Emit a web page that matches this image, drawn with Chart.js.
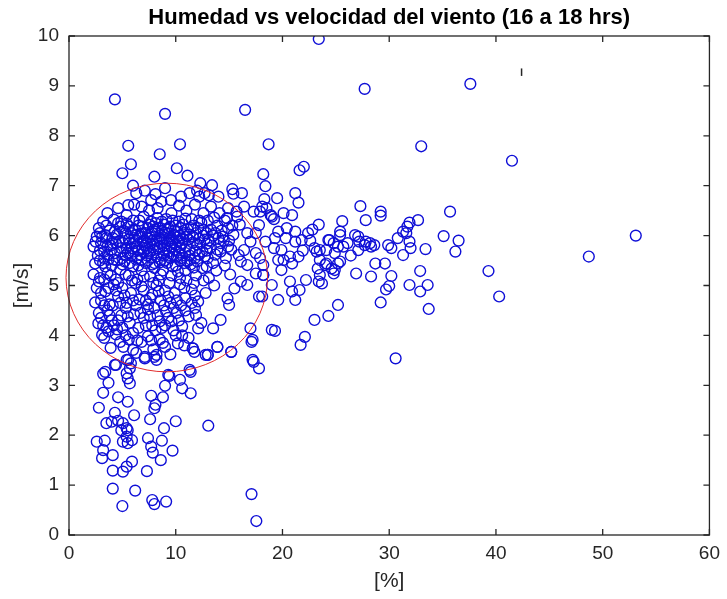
<!DOCTYPE html>
<html>
<head>
<meta charset="utf-8">
<script src="https://cdn.jsdelivr.net/npm/chart.js@4.4.1/dist/chart.umd.min.js"></script>
<style>
  body { margin: 0; background: #fff; }
  canvas { display: block; }
</style>
</head>
<body>
<canvas id="humedad" width="727" height="599"></canvas>
<script>
// ejes
const xTicks = [0, 10, 20, 30, 40, 50, 60];
const yTicks = [0, 1, 2, 3, 4, 5, 6, 7, 8, 9, 10];
const titulo = "Humedad vs velocidad del viento (16 a 18 hrs)";

// [humedad %, velocidad m/s]
const aislados = [
  [23.4, 9.94], [27.7, 8.94], [37.6, 9.04], [4.3, 8.73], [9.0, 8.44], [16.5, 8.52],
  [5.55, 7.8], [10.4, 7.83], [18.7, 7.83], [33.0, 7.79], [41.5, 7.5], [8.5, 7.63],
  [5.8, 7.43], [5.0, 7.25], [10.1, 7.35], [11.1, 7.2], [8.0, 7.18], [6.0, 7.0],
  [12.3, 7.05], [13.4, 7.01], [15.3, 6.93], [15.4, 6.84], [18.2, 7.23], [18.4, 6.99],
  [21.6, 7.31], [22.0, 7.38], [48.7, 5.58], [53.1, 6.0], [39.3, 5.29], [40.3, 4.78],
  [30.6, 3.54], [35.7, 6.48]
];

const bordeSuperior = [
  [8.1, 6.83], [11.3, 6.85], [12.7, 6.85], [14.0, 6.78], [18.3, 6.73], [19.5, 6.75],
  [21.2, 6.85], [21.5, 6.66], [17.9, 6.48], [19.2, 6.33], [20.1, 6.45], [20.9, 6.41],
  [5.55, 6.61], [6.8, 6.58], [4.9, 6.28], [5.4, 6.41], [7.7, 6.71], [8.65, 6.68],
  [8.3, 6.55], [9.55, 6.71], [12.2, 6.78], [13.1, 6.81], [16.4, 6.58], [17.3, 6.48],
  [18.5, 6.55], [14.8, 6.35], [15.75, 6.38], [17.8, 6.21], [16.7, 6.05], [17.5, 6.05],
  [17.0, 5.88], [16.4, 5.71], [15.9, 5.61], [17.5, 5.65], [17.9, 5.55], [18.2, 5.41],
  [16.1, 5.48], [16.7, 5.41], [17.5, 5.24], [18.2, 5.21], [18.9, 6.41], [3.6, 6.45],
  [4.6, 6.55], [6.1, 6.62], [7.1, 6.9], [9.0, 6.95], [12.0, 6.9], [16.2, 6.85],
  [10.5, 6.78], [6.3, 6.85], [10.3, 6.6], [11.0, 6.5], [11.8, 6.62], [12.6, 6.45],
  [13.3, 6.58], [14.1, 6.45], [14.9, 6.55], [15.7, 6.48], [9.6, 6.45], [7.5, 6.5]
];

const nucleo = [
  // 5.9 - 6.35
  [2.9, 6.05], [3.5, 6.2], [4.1, 5.95], [4.6, 6.25], [5.1, 6.1], [5.6, 5.92], [6.0, 6.3],
  [6.4, 6.02], [6.9, 6.18], [7.3, 5.95], [7.7, 6.28], [8.1, 6.08], [8.5, 5.93], [8.9, 6.22],
  [9.3, 6.04], [9.7, 6.3], [10.1, 5.97], [10.5, 6.15], [10.9, 6.34], [11.3, 6.02], [11.7, 6.2],
  [12.2, 5.94], [12.6, 6.12], [13.0, 6.3], [13.5, 6.0], [13.9, 6.2], [14.4, 5.98], [14.9, 6.15],
  [15.4, 6.02], [16.0, 6.22], [7.0, 6.38], [8.3, 6.35], [9.9, 6.1], [11.1, 6.12], [12.9, 6.05],
  [6.2, 6.12], [10.7, 5.92], [2.6, 5.98], [3.4, 6.01], [4.3, 6.08], [6.0, 6.11],
  // 5.5 - 5.9
  [2.3, 5.78], [2.7, 5.6], [3.0, 5.85], [3.3, 5.68], [3.7, 5.52], [3.9, 5.8], [4.3, 5.65],
  [4.7, 5.88], [5.0, 5.55], [5.4, 5.75], [5.8, 5.6], [6.1, 5.85], [6.5, 5.7], [6.8, 5.52],
  [7.1, 5.8], [7.5, 5.65], [7.8, 5.9], [8.2, 5.58], [8.5, 5.78], [8.8, 5.65], [9.2, 5.85],
  [9.5, 5.55], [9.9, 5.72], [10.2, 5.88], [10.6, 5.6], [11.0, 5.78], [11.4, 5.52], [11.8, 5.7],
  [12.3, 5.85], [12.7, 5.58], [13.2, 5.75], [13.7, 5.62], [14.2, 5.85], [14.7, 5.55], [15.2, 5.72],
  [5.2, 5.95], [6.3, 5.9], [7.2, 6.05], [7.9, 5.72], [8.6, 6.0], [9.0, 5.5], [9.6, 5.95],
  [10.4, 5.75], [11.2, 5.92], [11.9, 6.05], [6.7, 5.62], [8.0, 5.45], [9.4, 5.68], [10.8, 5.45],
  [7.4, 5.5], [5.9, 5.75], [4.5, 5.5], [3.5, 5.95], [12.0, 5.48], [13.5, 5.45],
  [6.6, 5.98], [7.6, 5.82], [8.4, 6.15], [9.1, 5.74], [9.8, 6.02], [10.3, 5.66], [11.6, 5.86],
  [8.8, 5.92], [7.0, 5.68], [6.2, 5.78], [10.0, 5.82], [12.5, 5.68], [5.6, 6.18], [4.0, 5.72],
  // 5.1 - 5.5
  [2.45, 5.44], [2.3, 5.22], [2.9, 5.15], [3.2, 5.45], [3.6, 5.25], [4.0, 5.4], [4.4, 5.12],
  [4.8, 5.32], [5.2, 5.48], [5.6, 5.2], [6.0, 5.38], [6.4, 5.12], [6.8, 5.3], [7.2, 5.45],
  [7.6, 5.18], [8.0, 5.35], [8.4, 5.1], [8.8, 5.3], [9.2, 5.45], [9.6, 5.2], [10.0, 5.4],
  [10.4, 5.15], [10.9, 5.3], [11.4, 5.42], [11.9, 5.2], [12.5, 5.35], [13.1, 5.15], [13.8, 5.3],
  [14.6, 5.4], [15.1, 5.22],
  // 4.6 - 5.1
  [2.6, 4.95], [3.0, 4.7], [3.4, 4.88], [3.8, 4.62], [4.2, 5.02], [4.6, 4.78], [5.0, 4.95],
  [5.4, 4.65], [5.8, 4.85], [6.2, 5.05], [6.6, 4.72], [7.0, 4.9], [7.4, 4.62], [7.8, 4.82],
  [8.2, 5.0], [8.6, 4.7], [9.0, 4.9], [9.5, 4.65], [9.9, 4.85], [10.4, 5.02], [10.9, 4.75],
  [11.5, 4.92], [12.1, 4.68], [12.8, 4.85], [2.45, 4.66], [13.6, 5.0],
  // 4.1 - 4.6
  [2.75, 4.24], [2.8, 4.45], [3.2, 4.2], [3.6, 4.5], [4.0, 4.3], [4.5, 4.12], [4.9, 4.4],
  [5.3, 4.55], [5.7, 4.25], [6.1, 4.42], [6.5, 4.15], [7.0, 4.35], [7.4, 4.52], [7.8, 4.2],
  [8.3, 4.4], [8.7, 4.15], [9.1, 4.48], [9.6, 4.28], [10.1, 4.45], [10.6, 4.18], [11.2, 4.38],
  [11.8, 4.55], [12.4, 4.25], [12.1, 4.14], [11.9, 4.41], [13.5, 4.14], [14.2, 4.31],
  // 3.6 - 4.1
  [3.1, 4.01], [3.3, 3.95], [3.9, 3.75], [4.4, 4.02], [4.8, 3.87], [5.1, 3.77], [5.6, 3.92],
  [6.0, 3.71], [6.3, 3.65], [6.8, 3.87], [7.4, 3.98], [7.9, 3.72], [8.5, 3.92], [9.0, 3.77],
  [9.5, 3.62], [10.0, 4.0], [10.2, 3.84], [10.8, 3.8], [11.2, 3.95], [3.7, 4.08], [11.6, 3.74],
  [11.75, 3.67], [12.8, 3.61], [13.9, 3.77], [13.0, 3.61], [15.2, 3.67], [7.1, 3.57], [8.0, 3.57]
];

// zona mas cargada del nucleo
const nucleoDenso = [
  [3.2, 6.28], [4.2, 6.32], [5.4, 6.24], [6.6, 6.3], [7.9, 6.18], [9.1, 6.33], [10.3, 6.28],
  [11.5, 6.33], [12.4, 6.26], [13.6, 6.36], [14.6, 6.3],
  [2.8, 6.15], [3.8, 6.1], [4.8, 6.18], [5.8, 6.05], [7.4, 6.15], [8.7, 6.1], [9.5, 6.18],
  [10.8, 6.05], [12.1, 6.15], [13.3, 6.12], [14.3, 6.1], [15.3, 6.2],
  [3.1, 5.98], [4.5, 6.02], [5.0, 5.86], [6.8, 6.04], [7.6, 5.97], [8.2, 5.9], [9.0, 6.06],
  [10.4, 6.0], [11.6, 5.98], [12.7, 5.92], [14.0, 5.95], [15.0, 5.9],
  [2.5, 5.88], [3.6, 5.78], [4.4, 5.85], [5.7, 5.85], [6.9, 5.88], [7.3, 5.75], [8.0, 5.82],
  [8.9, 5.8], [9.7, 5.86], [10.6, 5.84], [11.3, 5.72], [12.0, 5.82], [12.9, 5.84], [13.9, 5.72],
  [14.9, 5.78],
  [2.9, 5.7], [3.6, 5.62], [4.8, 5.68], [5.3, 5.6], [6.0, 5.68], [7.3, 5.6], [7.7, 5.56],
  [8.6, 5.52], [9.3, 5.6], [10.1, 5.58], [10.9, 5.65], [12.2, 5.62], [13.0, 5.55], [14.2, 5.68],
  [2.9, 5.5], [3.4, 5.38], [4.2, 5.52], [5.0, 5.42], [5.7, 5.45], [6.3, 5.52], [6.5, 5.4],
  [7.8, 5.42], [8.5, 5.46], [9.7, 5.38], [10.4, 5.5], [11.1, 5.48], [11.7, 5.36], [12.9, 5.38],
  [2.8, 5.08], [3.3, 5.12], [3.9, 5.2], [4.6, 5.05], [5.3, 5.22], [5.9, 5.1], [7.0, 5.18],
  [7.9, 5.05], [8.6, 5.22], [9.4, 5.05], [10.2, 5.28], [11.0, 5.1], [11.7, 5.05], [12.6, 5.1],
  [3.0, 4.85], [3.7, 4.95], [4.4, 4.9], [5.2, 4.8], [6.0, 4.7], [6.8, 4.98], [7.6, 4.75],
  [8.4, 4.88], [9.3, 4.78], [10.1, 4.7], [10.8, 4.95], [11.8, 4.8],
  [3.3, 4.6], [4.1, 4.6], [4.8, 4.65], [6.3, 4.6], [7.2, 4.7], [8.0, 4.55], [8.9, 4.6],
  [9.8, 4.55], [10.5, 4.6], [11.5, 4.65],
  [3.0, 4.35], [3.8, 4.4], [4.6, 4.3], [5.5, 4.38], [6.7, 4.45], [7.6, 4.38], [8.5, 4.28],
  [9.3, 4.35], [10.3, 4.3], [10.9, 4.5],
  [3.5, 4.15], [4.2, 4.2], [5.0, 4.15], [6.0, 4.05], [7.2, 4.2], [8.1, 4.1], [9.0, 4.2],
  [9.8, 4.1], [10.6, 4.0], [5.3, 4.0], [7.7, 3.9], [8.8, 3.85], [6.4, 3.9]
];

// centro casi solido
const nucleoCentro = [
  [6.1, 5.95], [6.5, 6.2], [7.0, 5.9], [7.5, 6.22], [7.8, 6.05], [8.3, 5.75], [8.6, 5.85],
  [9.0, 5.95], [9.3, 6.15], [9.6, 5.78], [10.0, 6.2], [10.3, 5.9], [10.7, 6.22], [11.0, 5.98],
  [11.4, 6.15], [6.9, 5.75], [7.6, 5.68], [8.1, 6.25], [8.9, 5.6], [9.4, 5.9], [10.5, 5.55],
  [11.3, 5.6], [6.4, 5.55], [7.3, 5.85], [8.7, 6.28], [9.8, 5.62], [10.1, 6.08], [5.5, 5.65],
  [12.6, 6.0], [13.1, 5.9], [13.7, 6.05], [12.2, 6.3], [5.3, 6.05], [4.9, 5.75], [4.1, 5.85],
  [3.3, 5.55], [11.8, 5.55], [12.9, 5.7], [14.5, 5.9], [8.0, 6.12]
];

const colaInferior = [
  [3.2, 3.23], [3.7, 3.05], [3.2, 2.85], [2.8, 2.55], [4.6, 2.76], [5.5, 2.67], [5.7, 3.04],
  [5.5, 3.14], [5.4, 3.24], [4.4, 3.41], [6.1, 2.4], [4.3, 2.45], [3.5, 2.24], [4.0, 2.27],
  [4.6, 2.29], [5.05, 2.24], [5.4, 2.14], [5.5, 2.1], [4.9, 2.1], [2.6, 1.87], [3.35, 1.89],
  [3.2, 1.7], [3.1, 1.54], [4.1, 1.6], [5.05, 1.87], [5.5, 1.84], [5.9, 1.9], [5.4, 1.97],
  [4.1, 1.29], [5.05, 1.27], [5.4, 1.37], [5.9, 1.47], [4.1, 0.93], [6.2, 0.89], [5.0, 0.58],
  [7.3, 1.28], [7.4, 1.94], [7.7, 1.77], [7.85, 1.65], [8.6, 1.5], [8.7, 1.89], [9.7, 1.69],
  [8.9, 2.14], [10.0, 2.28], [7.6, 2.32], [8.0, 2.54], [8.1, 2.61], [7.7, 2.79], [8.8, 2.76],
  [9.0, 2.99], [9.4, 3.19], [10.4, 3.11], [10.6, 2.94], [11.4, 2.84], [11.4, 3.27], [13.05, 2.19],
  [7.8, 0.7], [8.0, 0.62], [9.1, 0.67], [17.1, 0.82], [17.55, 0.28], [17.3, 3.47], [17.8, 3.34],
  [17.1, 3.87], [15.2, 3.67], [13.9, 3.77], [13.0, 3.61], [11.6, 3.74], [7.1, 3.54], [8.2, 3.61],
  [8.2, 3.51], [5.4, 3.51], [5.8, 3.44], [3.4, 3.27], [4.3, 3.41], [5.55, 3.51], [5.7, 3.34],
  [9.3, 3.21], [11.3, 3.31], [17.2, 3.51], [17.2, 3.91], [17.0, 4.14]
];

const dispersionDerecha = [
  [27.3, 6.59], [27.8, 6.31], [29.2, 6.48], [29.2, 6.4], [32.7, 6.31], [31.9, 6.26],
  [23.4, 6.22], [25.6, 6.29], [35.1, 5.99], [36.5, 5.9], [36.2, 5.68], [33.4, 5.73],
  [31.3, 5.61], [32.0, 5.75], [31.9, 5.88], [31.6, 6.05], [31.3, 6.08], [31.7, 6.18],
  [30.8, 5.95], [30.2, 5.75], [29.9, 5.81], [28.6, 5.81], [28.2, 5.85], [27.8, 5.88],
  [27.1, 5.98], [27.1, 5.71], [26.1, 5.85], [25.7, 5.78], [25.2, 5.78], [25.4, 6.01],
  [24.4, 5.91], [24.1, 5.71], [23.5, 5.71], [23.2, 5.68], [23.5, 5.51], [24.1, 5.44],
  [24.9, 5.31], [25.2, 5.44], [24.8, 5.24], [23.4, 5.08], [23.7, 5.04], [26.9, 5.24],
  [28.3, 5.18], [28.7, 5.44], [29.6, 5.44], [30.2, 5.19], [30.0, 4.99], [29.7, 4.92],
  [29.2, 4.66], [32.9, 5.29], [31.9, 5.01], [32.9, 4.88], [33.6, 5.01], [33.7, 4.53],
  [25.2, 4.61], [24.3, 4.39], [23.0, 4.31], [22.1, 3.97], [21.7, 3.81], [19.3, 4.09],
  [19.0, 4.11], [22.2, 5.11], [19.6, 4.71], [21.2, 4.71], [21.6, 4.91], [20.7, 5.08],
  [20.9, 4.88], [19.0, 5.01], [18.1, 4.78], [18.2, 5.21], [19.9, 5.31], [19.6, 5.51],
  [18.1, 6.58], [19.0, 6.38], [19.6, 6.08], [20.4, 6.15], [21.2, 6.08], [21.8, 5.91],
  [22.4, 6.05], [18.4, 5.88], [19.2, 5.75], [19.9, 5.71], [20.7, 5.58], [21.5, 5.58],
  [20.1, 5.51], [20.9, 5.44], [21.2, 5.88], [23.0, 5.75], [24.3, 5.91], [24.8, 5.85],
  [25.4, 6.08], [26.8, 6.01], [27.2, 5.88], [27.7, 5.81], [28.3, 5.78], [24.9, 5.65],
  [25.4, 5.48], [24.6, 5.34], [23.3, 5.34], [24.0, 5.41], [23.5, 5.21], [16.1, 5.08],
  [16.7, 5.01], [17.8, 4.78], [14.85, 4.74], [15.0, 4.61], [15.5, 4.94], [22.6, 5.9],
  [20.3, 5.95], [22.8, 6.12], [26.4, 5.6], [19.3, 5.95], [21.9, 5.7]
];

// circulo rojo: centro [x, y] y radios en unidades de los ejes
const circulo = [9.16, 5.16, 9.44, 1.89];
const marca = [42.4, 9.2, 9.35];

const azul = "rgb(15, 15, 215)";
const gris = "#262626";
const fuente = "'Liberation Sans', Arial, sans-serif";

function aPuntos(lista) {
  return lista.map(p => ({ x: p[0], y: p[1] }));
}

const grupos = [aislados, bordeSuperior, nucleo, nucleoDenso, nucleoCentro, colaInferior, dispersionDerecha];

const cuadro = {
  id: "cuadro",
  afterDatasetsDraw(chart) {
    const ctx = chart.ctx;
    const a = chart.chartArea;
    const sx = chart.scales.x;
    const sy = chart.scales.y;
    ctx.save();

    // circulo rojo
    ctx.strokeStyle = "rgb(225, 45, 45)";
    ctx.lineWidth = 1;
    const cx = sx.getPixelForValue(circulo[0]);
    const cy = sy.getPixelForValue(circulo[1]);
    const rx = sx.getPixelForValue(circulo[0] + circulo[2]) - cx;
    const ry = cy - sy.getPixelForValue(circulo[1] + circulo[3]);
    ctx.beginPath();
    ctx.ellipse(cx, cy, rx, ry, 0, 0, 2 * Math.PI);
    ctx.stroke();

    // caja y marcas hacia dentro
    ctx.strokeStyle = gris;
    ctx.lineWidth = 1.3;
    ctx.strokeRect(a.left, a.top, a.right - a.left, a.bottom - a.top);
    ctx.beginPath();
    sx.ticks.forEach(t => {
      const px = sx.getPixelForValue(t.value);
      ctx.moveTo(px, a.bottom); ctx.lineTo(px, a.bottom - 6);
      ctx.moveTo(px, a.top); ctx.lineTo(px, a.top + 6);
    });
    sy.ticks.forEach(t => {
      const py = sy.getPixelForValue(t.value);
      ctx.moveTo(a.left, py); ctx.lineTo(a.left + 6, py);
      ctx.moveTo(a.right, py); ctx.lineTo(a.right - 6, py);
    });
    ctx.stroke();

    // marca suelta arriba a la derecha
    ctx.lineWidth = 1.5;
    ctx.beginPath();
    ctx.moveTo(sx.getPixelForValue(marca[0]), sy.getPixelForValue(marca[1]));
    ctx.lineTo(sx.getPixelForValue(marca[0]), sy.getPixelForValue(marca[2]));
    ctx.stroke();

    // titulo centrado sobre los ejes
    ctx.fillStyle = "#000";
    ctx.font = "bold 22px " + fuente;
    ctx.textAlign = "center";
    ctx.textBaseline = "middle";
    ctx.fillText(titulo, (a.left + a.right) / 2, 18);
    ctx.restore();
  }
};

new Chart("humedad", {
  type: "scatter",
  data: {
    datasets: grupos.map(g => ({
      data: aPuntos(g),
      pointStyle: "circle",
      pointRadius: 5.4,
      pointBorderWidth: 1.4,
      borderColor: azul,
      backgroundColor: "rgba(0,0,0,0)"
    }))
  },
  options: {
    responsive: false,
    animation: false,
    layout: { padding: { left: 0, right: 14, top: 36, bottom: 0 } },
    plugins: {
      legend: { display: false },
      tooltip: { enabled: false },
      title: { display: false }
    },
    scales: {
      x: {
        type: "linear",
        min: 0,
        max: 60,
        afterBuildTicks: s => { s.ticks = xTicks.map(v => ({ value: v })); },
        afterFit: s => { s.height = 64; },
        grid: { display: false, drawTicks: false },
        border: { display: false },
        ticks: { color: gris, padding: 7, font: { family: fuente, size: 19 } },
        title: {
          display: true,
          text: "[%]",
          color: gris,
          font: { family: fuente, size: 21 },
          padding: { top: 0, bottom: 5 }
        }
      },
      y: {
        type: "linear",
        min: 0,
        max: 10,
        afterBuildTicks: s => { s.ticks = yTicks.map(v => ({ value: v })); },
        afterFit: s => { s.width = 69; },
        grid: { display: false, drawTicks: false },
        border: { display: false },
        ticks: { color: gris, padding: 10, font: { family: fuente, size: 19 } },
        title: {
          display: true,
          text: "[m/s]",
          color: gris,
          font: { family: fuente, size: 21 },
          padding: { top: 10, bottom: 0 }
        }
      }
    }
  },
  plugins: [cuadro]
});
</script>
</body>
</html>
